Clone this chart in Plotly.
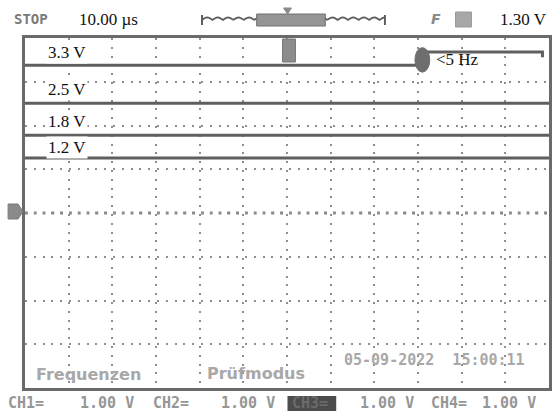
import numpy as np
import plotly.graph_objects as go

# Canvas and graticule geometry
W, H = 555, 412
L, R, T, B = 25, 3, 38, 24
N_XDIV, N_YDIV = 12, 8

# Channel traces, in screen divisions above the bottom graticule line
channel_labels = ["3.3 V", "2.5 V", "1.8 V", "1.2 V"]
channel_levels = [7.38, 6.51, 5.78, 5.26]
label_levels = [7.68, 6.83, 6.10, 5.49]
trace_start, trace_end = 0.0, 12.0

# 3.3 V rail: steps up late in the record
rail33_x = [0.0, 9.1, 9.1, 11.85, 11.85]
rail33_y = [7.38, 7.38, 7.68, 7.68, 7.56]

# Readouts
timebase = "10.00 \u00b5s"
trigger_level = "1.30 V"
freq_readout = "<5 Hz"
status = "STOP"
soft_labels = ["Frequenzen", "Pr\u00fcfmodus"]
timestamp = "05-09-2022  15:00:11"
scale_texts = [("CH1=", "1.00 V"), ("CH2=", "1.00 V"), ("CH3=", "1.00 V"), ("CH4=", "1.00 V")]

TRACE = "#5f5f5f"
GRID = "#8e8e8e"
SOFT = "#969696"
SERIF = "Liberation Serif"
MONO = "DejaVu Sans Mono"

PW, PH = W - L - R, H - T - B


def px(x):
    return (x - L) / PW


def py(y):
    return (H - B - y) / PH


fig = go.Figure()

for i, lvl in enumerate(channel_levels):
    if i == 0:
        xs, ys = rail33_x, rail33_y
    else:
        xs, ys = [trace_start, trace_end], [lvl, lvl]
    fig.add_trace(go.Scatter(
        x=xs, y=ys, mode="lines",
        line=dict(color=TRACE, width=3),
        hoverinfo="skip", showlegend=False,
    ))

ann = []
# channel labels
for lab, lv in zip(channel_labels, label_levels):
    ann.append(dict(x=0.47, y=lv, xref="x", yref="y", text=lab, showarrow=False,
                    xanchor="left", yanchor="middle", bgcolor="white",
                    font=dict(family=SERIF, size=17, color="#111")))
# frequency readout next to the step
ann.append(dict(x=px(436), y=py(59), xref="paper", yref="paper", text=freq_readout,
                showarrow=False, xanchor="left", yanchor="middle",
                font=dict(family=SERIF, size=17, color="#111")))
# header
ann.append(dict(x=px(12), y=py(19), xref="paper", yref="paper", text="<b>%s</b>" % status,
                showarrow=False, xanchor="left", yanchor="middle",
                font=dict(family=MONO, size=14, color="#7a7a7a")))
ann.append(dict(x=px(77), y=py(19), xref="paper", yref="paper", text=timebase,
                showarrow=False, xanchor="left", yanchor="middle",
                font=dict(family=SERIF, size=17, color="#111")))
ann.append(dict(x=px(501), y=py(19), xref="paper", yref="paper", text=trigger_level,
                showarrow=False, xanchor="left", yanchor="middle",
                font=dict(family=SERIF, size=17, color="#111")))
ann.append(dict(x=px(431), y=py(19), xref="paper", yref="paper", text="<i><b>F</b></i>",
                showarrow=False, xanchor="left", yanchor="middle",
                font=dict(family="DejaVu Sans", size=14, color="#8a8a8a")))
# soft-key captions and time stamp inside the graticule
ann.append(dict(x=px(34), y=py(374), xref="paper", yref="paper", text="<b>%s</b>" % soft_labels[0],
                showarrow=False, xanchor="left", yanchor="middle",
                font=dict(family="DejaVu Sans", size=16, color="#a8a8a8")))
ann.append(dict(x=px(206), y=py(373), xref="paper", yref="paper", text="<b>%s</b>" % soft_labels[1],
                showarrow=False, xanchor="left", yanchor="middle",
                font=dict(family="DejaVu Sans", size=16, color="#a8a8a8")))
ann.append(dict(x=px(344), y=py(360), xref="paper", yref="paper", text="<b>%s</b>" % timestamp,
                showarrow=False, xanchor="left", yanchor="middle",
                font=dict(family=MONO, size=15, color="#a8a8a8")))

shapes = []
# bottom scale line
scale_pos = [(6, 78), (152, 220), (292, 360), (431, 483)]
for (name, val), (xn, xv) in zip(scale_texts, scale_pos):
    col = SOFT
    if name == "CH3=":
        # highlighted (selected) channel tag
        shapes.append(dict(type="rect", xref="paper", yref="paper", x0=px(289), x1=px(338),
                           y0=py(411), y1=py(396), fillcolor="#4c4c4c", line=dict(width=0)))
        col = "#6a6a6a"
    ann.append(dict(x=px(xn), y=py(403), xref="paper", yref="paper", text="<b>%s</b>" % name,
                    showarrow=False, xanchor="left", yanchor="middle",
                    font=dict(family=MONO, size=15, color=col)))
    ann.append(dict(x=px(xv), y=py(403), xref="paper", yref="paper", text="<b>%s</b>" % val,
                    showarrow=False, xanchor="left", yanchor="middle",
                    font=dict(family=MONO, size=15, color=SOFT)))

# emphasised centre row of the graticule
shapes.append(dict(type="line", xref="x", yref="y", x0=0, x1=N_XDIV, y0=N_YDIV / 2, y1=N_YDIV / 2,
                   line=dict(color="#7e7e7e", width=2.8, dash="2.8px,6px"), layer="below"))
# record-overview icon: squiggle with highlighted window
xs = np.linspace(203, 387, 140)
ys = 20 - 2.5 * np.abs(np.sin(np.pi * (xs - 203) / 10.5))
path = "M " + " L ".join("%.4f,%.4f" % (px(a), py(b)) for a, b in zip(xs, ys))
shapes.append(dict(type="path", xref="paper", yref="paper", path=path,
                   line=dict(color="#5e5e5e", width=1.8)))
shapes.append(dict(type="rect", xref="paper", yref="paper", x0=px(258), x1=px(327), y0=py(14), y1=py(26),
                   fillcolor="#959595", line=dict(color="#6e6e6e", width=1)))
shapes.append(dict(type="path", xref="paper", yref="paper",
                   path="M %f,%f L %f,%f L %f,%f Z" % (px(285), py(8), px(293), py(8), px(289), py(14)),
                   fillcolor="#8a8a8a", line=dict(color="#8a8a8a", width=1)))
for xe in (203, 387):
    shapes.append(dict(type="line", xref="paper", yref="paper", x0=px(xe), x1=px(xe), y0=py(15), y1=py(25),
                       line=dict(color="#5e5e5e", width=2)))
# trigger-source square
shapes.append(dict(type="rect", xref="paper", yref="paper", x0=px(458), x1=px(474), y0=py(12), y1=py(27),
                   fillcolor="#a8a8a8", line=dict(color="#999", width=1)))
# trigger-position marker on the top edge
shapes.append(dict(type="rect", xref="paper", yref="paper", x0=px(284), x1=px(297), y0=py(39), y1=py(62),
                   fillcolor="#8c8c8c", line=dict(color="#777", width=1)))
# marker at the 3.3 V step
shapes.append(dict(type="circle", xref="x", yref="y", x0=rail33_x[1] - 0.17, x1=rail33_x[1] + 0.17,
                   y0=rail33_y[1] - 0.16, y1=rail33_y[2] + 0.1,
                   fillcolor="#6e6e6e", line=dict(color="#6e6e6e", width=1)))
# ground-reference arrow at the left edge
shapes.append(dict(type="path", xref="paper", yref="paper",
                   path="M %f,%f L %f,%f L %f,%f L %f,%f L %f,%f Z" % (
                       px(8), py(204), px(18), py(204), px(23), py(211.5), px(18), py(219), px(8), py(219)),
                   fillcolor="#8a8a8a", line=dict(color="#7a7a7a", width=1)))

axis_common = dict(showgrid=True, gridcolor=GRID, gridwidth=2, griddash="2px,6.8px",
                   showticklabels=False, ticks="", zeroline=False, showline=True,
                   linecolor="#6a6a6a", linewidth=3, mirror=True, fixedrange=True)

fig.update_layout(
    width=W, height=H,
    margin=dict(l=L, r=R, t=T, b=B),
    paper_bgcolor="white", plot_bgcolor="white",
    xaxis=dict(range=[0, N_XDIV], dtick=1, tick0=0, **axis_common),
    yaxis=dict(range=[0, N_YDIV], dtick=1, tick0=0, **axis_common),
    annotations=ann, shapes=shapes,
    showlegend=False,
)

fig.write_html("out.html")
